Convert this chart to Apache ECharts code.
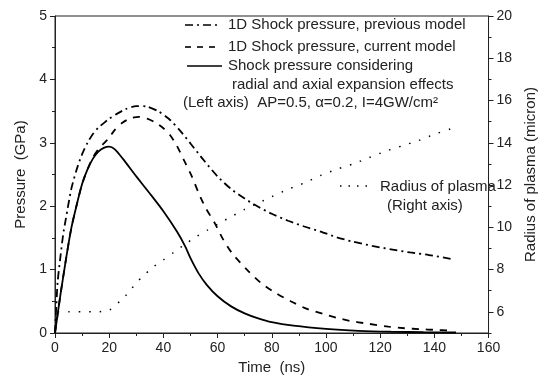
<!DOCTYPE html>
<html>
<head>
<meta charset="utf-8">
<script src="https://cdn.jsdelivr.net/npm/echarts@6/dist/echarts.min.js"></script>
<style>
  html, body { margin: 0; padding: 0; background: #fff; }
  #chart { width: 546px; height: 386px; }
</style>
</head>
<body>
<div id="chart"></div>
<script>
// 1D shock pressure, previous model (left axis, GPa)
const timePrev = [0, 0.5, 1, 2, 3, 4, 6, 8, 10, 12, 14, 16, 18, 20, 23, 26, 30, 34, 38, 42, 46, 50, 55, 60, 65, 70, 75, 80, 86, 92, 98, 104, 110, 117, 124, 131, 138, 146];
const pressPrev = [0, 0.45, 0.82, 1.2, 1.55, 1.8, 2.27, 2.58, 2.82, 3.0, 3.14, 3.24, 3.31, 3.38, 3.46, 3.53, 3.58, 3.57, 3.5, 3.38, 3.2, 2.99, 2.72, 2.47, 2.27, 2.12, 1.99, 1.88, 1.77, 1.68, 1.6, 1.51, 1.44, 1.375, 1.32, 1.27, 1.23, 1.17];

// 1D shock pressure, current model
const timeCurrent = [0, 2, 4, 6, 8, 10, 12, 14, 16, 18, 20, 22, 25, 28, 31, 34, 37, 40, 42.5, 45, 48, 50.5, 53, 55.5, 59, 62, 65.5, 71, 76, 81.5, 87, 93, 99, 104, 109, 115, 123, 129, 135, 140, 146];
const pressCurrent = [0, 0.6, 1.15, 1.65, 2.02, 2.35, 2.58, 2.77, 2.9, 2.99, 3.08, 3.2, 3.32, 3.39, 3.41, 3.38, 3.32, 3.23, 3.12, 2.95, 2.69, 2.47, 2.21, 1.98, 1.73, 1.48, 1.25, 0.99, 0.79, 0.63, 0.5, 0.38, 0.3, 0.24, 0.19, 0.15, 0.1, 0.075, 0.06, 0.05, 0.04];

// shock pressure with radial and axial expansion
const timeSolid = [0, 2, 4, 6, 8, 10, 12, 14, 16, 18, 20, 22, 25, 30, 35, 40, 45, 48, 50, 53, 56, 60, 65, 70, 75, 80, 88, 100, 112, 124, 136, 148];
const pressSolid = [0, 0.6, 1.15, 1.65, 2.02, 2.35, 2.58, 2.75, 2.86, 2.92, 2.94, 2.9, 2.75, 2.47, 2.2, 1.92, 1.6, 1.37, 1.18, 0.94, 0.76, 0.58, 0.42, 0.31, 0.23, 0.17, 0.115, 0.065, 0.035, 0.02, 0.013, 0.008];

// radius of plasma (right axis, micron)
const timeRadius = [1, 5, 10, 15, 20, 22, 24, 26, 28, 30, 33, 36, 40, 44, 48, 52, 56, 60, 65, 70, 75, 80, 86, 92, 98, 104, 110, 116, 122, 128, 134, 140, 147];
const radius = [6.0, 6.0, 6.0, 6.0, 6.08, 6.3, 6.5, 6.75, 7.05, 7.38, 7.75, 8.1, 8.46, 8.83, 9.2, 9.55, 9.85, 10.15, 10.5, 10.85, 11.15, 11.45, 11.8, 12.1, 12.45, 12.75, 13.0, 13.3, 13.6, 13.85, 14.1, 14.4, 14.7];

const rightMajor = [6, 8, 10, 12, 14, 16, 18, 20];
const rightMinor = [5, 7, 9, 11, 13, 15, 17, 19];

const FONT = '"Liberation Sans", Arial, sans-serif';
const INK = '#222';

const zip = (xs, ys) => xs.map((x, i) => [x, ys[i]]);

const chart = echarts.init(document.getElementById('chart'));

const lineSeries = (name, xs, ys, yAxisIndex, type, width) => ({
  name,
  type: 'line',
  yAxisIndex,
  data: zip(xs, ys),
  showSymbol: false,
  smooth: 0.25,
  silent: true,
  lineStyle: { color: '#000', width, type },
  animation: false,
});

const axisCommon = {
  axisLine: { show: true, lineStyle: { color: INK, width: 1 } },
  axisTick: { show: true, inside: false, length: 5, lineStyle: { color: INK } },
  minorTick: { show: true, splitNumber: 2, length: 3, lineStyle: { color: INK } },
  axisLabel: { color: INK, fontSize: 14, fontFamily: FONT },
  splitLine: { show: false },
  minorSplitLine: { show: false },
  nameTextStyle: { color: INK, fontSize: 15, fontFamily: FONT },
  nameLocation: 'middle',
};

const legendText = (x, y, text) => ({
  type: 'text', left: x, top: y,
  style: { text, font: '15px ' + FONT, fill: INK },
});
const legendLine = (x1, x2, y, dash, width) => ({
  type: 'line',
  shape: { x1, y1: y, x2, y2: y },
  style: { stroke: '#000', lineWidth: width, lineDash: dash },
});

chart.setOption({
  backgroundColor: '#fff',
  grid: {
    left: 55, right: 45, top: 16, bottom: 53,
    show: true, borderColor: INK, borderWidth: 1, backgroundColor: 'transparent',
  },
  xAxis: {
    type: 'value', min: 0, max: 160, interval: 20,
    name: 'Time  (ns)', nameGap: 26,
    ...axisCommon,
  },
  yAxis: [
    {
      type: 'value', min: 0, max: 5, interval: 1, position: 'left',
      name: 'Pressure  (GPa)', nameGap: 25,
      ...axisCommon,
    },
    {
      type: 'value', min: 5, max: 20, position: 'right', offset: 0,
      name: 'Radius of plasma (micron)', nameGap: 27,
      ...axisCommon,
      minorTick: { show: false },
      axisTick: { show: true, length: 5, customValues: rightMajor, lineStyle: { color: INK } },
      axisLabel: { ...axisCommon.axisLabel, customValues: rightMajor },
    },
    {
      type: 'value', min: 5, max: 20, position: 'right', offset: 0,
      axisLine: { show: false },
      axisTick: { show: true, length: 3, customValues: rightMinor, lineStyle: { color: INK } },
      axisLabel: { show: false },
      splitLine: { show: false },
    },
  ],
  series: [
    lineSeries('1D Shock pressure, previous model', timePrev, pressPrev, 0, [8, 4, 2, 4], 1.8),
    lineSeries('Shock pressure considering radial and axial expansion effects', timeSolid, pressSolid, 0, 'solid', 1.8),
    lineSeries('1D Shock pressure, current model', timeCurrent, pressCurrent, 0, [7, 7], 1.8),
    lineSeries('Radius of plasma', timeRadius, radius, 1, [1.5, 9], 1.5),
  ],
  graphic: [
    legendLine(185, 221, 25, [8, 4, 2, 4], 1.6),
    legendText(228, 17, '1D Shock pressure, previous model'),
    legendLine(185, 221, 47, [6, 6], 1.6),
    legendText(228, 39, '1D Shock pressure, current model'),
    legendLine(187, 222, 66, null, 1.6),
    legendText(228, 58, 'Shock pressure considering'),
    legendText(232, 77, 'radial and axial expansion effects'),
    legendText(183, 95, '(Left axis)  AP=0.5, \u03b1=0.2, I=4GW/cm\u00b2'),
    legendLine(340, 370, 186, [1.5, 7], 1.5),
    legendText(380, 179, 'Radius of plasma'),
    legendText(387, 198, '(Right axis)'),
  ],
});
</script>
</body>
</html>
